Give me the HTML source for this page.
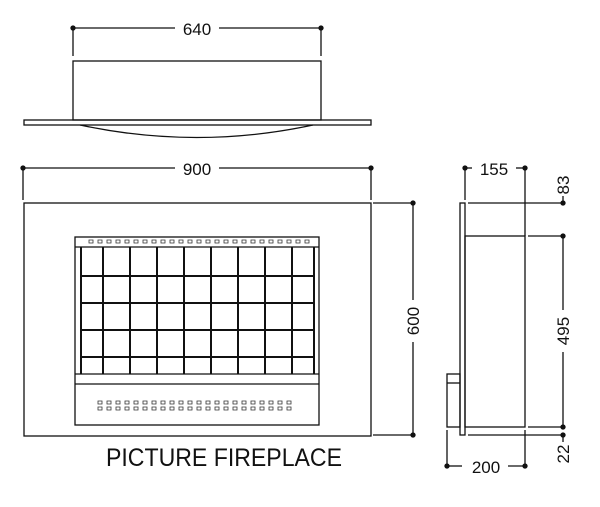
<!DOCTYPE html>
<html><head><style>body{margin:0;background:#fff}svg{display:block}text{font-family:"Liberation Sans",sans-serif;fill:#111}</style></head><body>
<svg width="600" height="507" viewBox="0 0 600 507" xmlns="http://www.w3.org/2000/svg" stroke="#111" fill="none" stroke-width="1.3">
<!-- top view -->
<line x1="73" y1="28" x2="175" y2="28"/><line x1="219" y1="28" x2="321" y2="28"/>
<line x1="73" y1="28" x2="73" y2="56"/><line x1="321" y1="28" x2="321" y2="56"/>
<circle cx="73" cy="28" r="2" fill="#111"/><circle cx="321" cy="28" r="2" fill="#111"/>
<text x="197" y="35" font-size="17" text-anchor="middle" stroke="none">640</text>
<rect x="73" y="61" width="248" height="59"/>
<rect x="24" y="120" width="347" height="5"/>
<path d="M80 125 Q197 150 313 125"/>
<!-- front view -->
<line x1="23" y1="168" x2="175" y2="168"/><line x1="219" y1="168" x2="371" y2="168"/>
<line x1="23" y1="168" x2="23" y2="200"/><line x1="371" y1="168" x2="371" y2="200"/>
<circle cx="23" cy="168" r="2" fill="#111"/><circle cx="371" cy="168" r="2" fill="#111"/>
<text x="197" y="175" font-size="17" text-anchor="middle" stroke="none">900</text>
<rect x="24" y="203" width="347" height="233"/>
<line x1="373" y1="203" x2="413" y2="203"/><line x1="373" y1="435" x2="413" y2="435"/>
<line x1="413" y1="203" x2="413" y2="300"/><line x1="413" y1="342" x2="413" y2="435"/>
<circle cx="413" cy="203" r="2" fill="#111"/><circle cx="413" cy="435" r="2" fill="#111"/>
<text transform="translate(419,321) rotate(-90)" font-size="17" text-anchor="middle" stroke="none">600</text>
<rect x="75" y="237" width="244" height="188"/>
<line x1="75" y1="247" x2="319" y2="247"/>
<g stroke-width="2">
<line x1="81" y1="247" x2="81" y2="374"/><line x1="103" y1="247" x2="103" y2="374"/><line x1="130" y1="247" x2="130" y2="374"/><line x1="157" y1="247" x2="157" y2="374"/><line x1="184" y1="247" x2="184" y2="374"/><line x1="211" y1="247" x2="211" y2="374"/><line x1="238" y1="247" x2="238" y2="374"/><line x1="265" y1="247" x2="265" y2="374"/><line x1="292" y1="247" x2="292" y2="374"/><line x1="314" y1="247" x2="314" y2="374"/>
<line x1="81" y1="276" x2="314" y2="276"/><line x1="81" y1="303" x2="314" y2="303"/><line x1="81" y1="330" x2="314" y2="330"/><line x1="81" y1="357" x2="314" y2="357"/>
</g>
<line x1="75" y1="374" x2="319" y2="374"/>
<line x1="75" y1="384" x2="319" y2="384"/>
<g stroke-width="0.8" stroke="#333">
<path d="M89 240h4v3h-4zM98 240h4v3h-4zM107 240h4v3h-4zM116 240h4v3h-4zM125 240h4v3h-4zM134 240h4v3h-4zM143 240h4v3h-4zM152 240h4v3h-4zM161 240h4v3h-4zM170 240h4v3h-4zM179 240h4v3h-4zM188 240h4v3h-4zM197 240h4v3h-4zM206 240h4v3h-4zM215 240h4v3h-4zM224 240h4v3h-4zM233 240h4v3h-4zM242 240h4v3h-4zM251 240h4v3h-4zM260 240h4v3h-4zM269 240h4v3h-4zM278 240h4v3h-4zM287 240h4v3h-4zM296 240h4v3h-4zM305 240h4v3h-4z"/>
<path d="M98 401h4v3h-4zM107 401h4v3h-4zM116 401h4v3h-4zM125 401h4v3h-4zM134 401h4v3h-4zM143 401h4v3h-4zM152 401h4v3h-4zM161 401h4v3h-4zM170 401h4v3h-4zM179 401h4v3h-4zM188 401h4v3h-4zM197 401h4v3h-4zM206 401h4v3h-4zM215 401h4v3h-4zM224 401h4v3h-4zM233 401h4v3h-4zM242 401h4v3h-4zM251 401h4v3h-4zM260 401h4v3h-4zM269 401h4v3h-4zM278 401h4v3h-4zM287 401h4v3h-4z"/>
<path d="M98 407h4v3h-4zM107 407h4v3h-4zM116 407h4v3h-4zM125 407h4v3h-4zM134 407h4v3h-4zM143 407h4v3h-4zM152 407h4v3h-4zM161 407h4v3h-4zM170 407h4v3h-4zM179 407h4v3h-4zM188 407h4v3h-4zM197 407h4v3h-4zM206 407h4v3h-4zM215 407h4v3h-4zM224 407h4v3h-4zM233 407h4v3h-4zM242 407h4v3h-4zM251 407h4v3h-4zM260 407h4v3h-4zM269 407h4v3h-4zM278 407h4v3h-4zM287 407h4v3h-4z"/>
</g>
<text x="224" y="466" font-size="25" text-anchor="middle" stroke="none" textLength="236" lengthAdjust="spacingAndGlyphs">PICTURE FIREPLACE</text>
<!-- side view -->
<line x1="465" y1="168" x2="472" y2="168"/><line x1="516" y1="168" x2="525" y2="168"/>
<line x1="465" y1="168" x2="465" y2="200"/><line x1="525" y1="168" x2="525" y2="236"/>
<circle cx="465" cy="168" r="2" fill="#111"/><circle cx="525" cy="168" r="2" fill="#111"/>
<text x="494" y="175" font-size="17" text-anchor="middle" stroke="none">155</text>
<rect x="460" y="203" width="5" height="232"/>
<rect x="465" y="236" width="60" height="191"/>
<rect x="447" y="374" width="13" height="53"/>
<line x1="447" y1="383" x2="460" y2="383"/>
<line x1="468" y1="203" x2="563" y2="203"/>
<line x1="528" y1="236" x2="563" y2="236"/>
<line x1="528" y1="427" x2="563" y2="427"/>
<line x1="468" y1="435" x2="563" y2="435"/>
<line x1="563" y1="236" x2="563" y2="310"/><line x1="563" y1="352" x2="563" y2="427"/>
<line x1="563" y1="196" x2="563" y2="203"/><line x1="563" y1="435" x2="563" y2="442"/>
<circle cx="563" cy="203" r="2" fill="#111"/><circle cx="563" cy="236" r="2" fill="#111"/><circle cx="563" cy="427" r="2" fill="#111"/><circle cx="563" cy="435" r="2" fill="#111"/>
<text transform="translate(569,185) rotate(-90)" font-size="17" text-anchor="middle" stroke="none">83</text>
<text transform="translate(569,331) rotate(-90)" font-size="17" text-anchor="middle" stroke="none">495</text>
<text transform="translate(569,454) rotate(-90)" font-size="17" text-anchor="middle" stroke="none">22</text>
<line x1="447" y1="430" x2="447" y2="466"/><line x1="525" y1="430" x2="525" y2="466"/>
<line x1="447" y1="466" x2="462" y2="466"/><line x1="508" y1="466" x2="525" y2="466"/>
<circle cx="447" cy="466" r="2" fill="#111"/><circle cx="525" cy="466" r="2" fill="#111"/>
<text x="486" y="473" font-size="17" text-anchor="middle" stroke="none">200</text>
</svg>
</body></html>
